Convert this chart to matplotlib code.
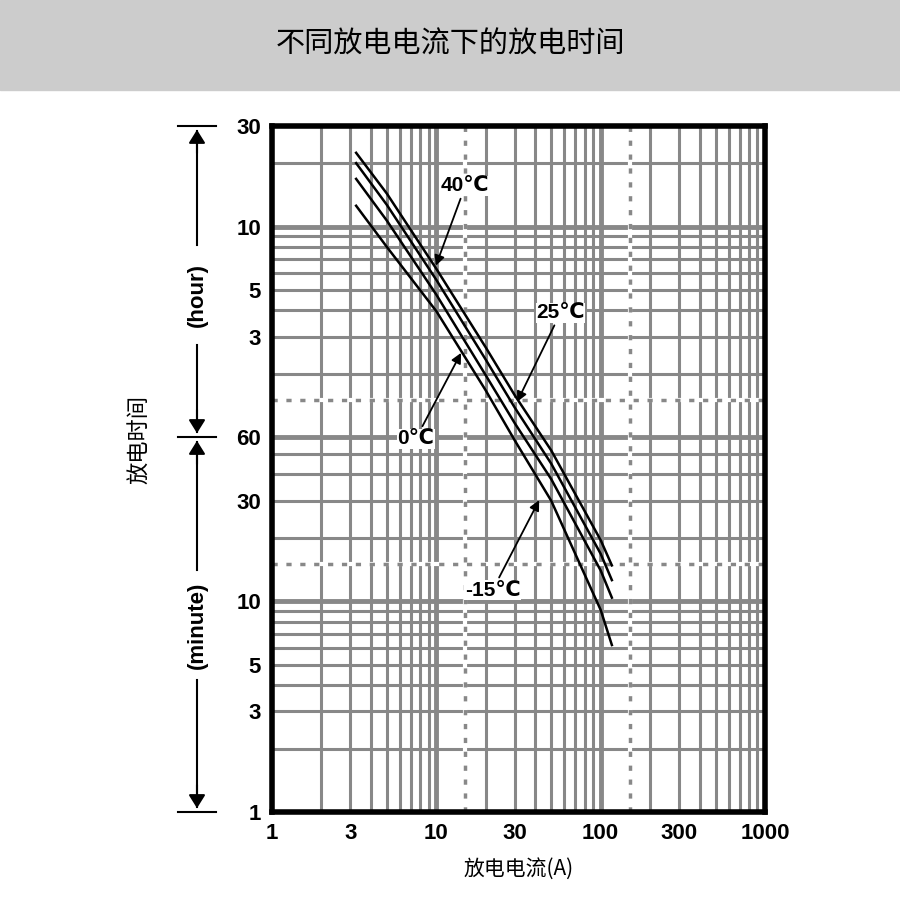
import matplotlib
matplotlib.use("Agg")
import matplotlib.pyplot as plt
import numpy as np

plt.rcParams['font.family'] = ['Noto Sans CJK SC', 'DejaVu Sans']

title = "不同放电电流下的放电时间"
xlabel = "放电电流(A)"
ylabel = "放电时间"
curve_x = [3.25, 5, 10, 20, 30, 50, 100, 117]
curves = {
    "40℃": [1343, 860, 378, 160, 95, 52, 19.5, 14.8],
    "25℃": [1200, 760, 335, 140, 83, 45, 16.8, 12.6],
    "0℃":  [1010, 640, 285, 118, 70, 38, 14.0, 10.4],
    "-15℃": [753, 480, 238, 100, 58, 30, 9.1, 6.2],
}
xticks = [1, 3, 10, 30, 100, 300, 1000]
yticks_min = [1, 3, 5, 10, 30, 60, 180, 300, 600, 1800]
yticklabels = ["1", "3", "5", "10", "30", "60", "3", "5", "10", "30"]

W, H = 900, 916
fig = plt.figure(figsize=(W/100, H/100), dpi=100)
fig.patches.append(plt.Rectangle((0, 1-90/H), 1, 90/H, transform=fig.transFigure, color='#cccccc', zorder=0))
fig.text(0.5, 1-45/H, title, ha='center', va='center', fontsize=21)

ax = fig.add_axes([272/W, 1-812/H, (765-272)/W, (812-126)/H])
ax.set_xscale('log'); ax.set_yscale('log')
ax.set_xlim(1, 1000); ax.set_ylim(1, 1800)

vx = list(range(1, 10)) + list(range(10, 100, 10)) + list(range(100, 1001, 100))
for v in vx:
    ax.axvline(v, color='#888888', lw=3.5 if v in (10, 100) else 2.2, zorder=1)
hy = list(range(1, 10)) + list(range(10, 60, 10)) + [60*h for h in range(1, 10)] + [600, 1200, 1800]
for v in hy:
    ax.axhline(v, color='#888888', lw=3.5 if v in (10, 60, 600) else 2.2, zorder=1)
for v in (15, 150):
    ax.axvline(v, color='white', lw=3, zorder=1.5)
    ax.axvline(v, color='#888888', lw=2.5, ls=(0, (1.5, 2.5)), zorder=2)
for v in (15, 90):
    ax.axhline(v, color='white', lw=3, zorder=1.5)
    ax.axhline(v, color='#888888', lw=2.5, ls=(0, (1.5, 2.5)), zorder=2)

for k, ys in curves.items():
    ax.plot(curve_x, ys, color='black', lw=1.8, zorder=5)

ann = {"40℃": ((15, 935), (9.8, 380)),
       "25℃": ((57, 234), (30.5, 86)),
       "0℃": ((7.5, 59), (14.4, 155)),
       "-15℃": ((22, 11.3), (43, 31))}
lab_font = ['Liberation Sans', 'DejaVu Sans']
for k, (txy, axy) in ann.items():
    ax.annotate(k, xy=axy, xytext=txy, fontsize=15, fontweight='bold', ha='center', va='center',
                family=lab_font,
                arrowprops=dict(arrowstyle='-|>', color='black', lw=1.3), zorder=6,
                bbox=dict(fc='white', ec='none', pad=0.5))

ax.set_xticks(xticks); ax.set_xticklabels([str(t) for t in xticks], fontsize=16, fontweight='bold', family=lab_font)
ax.set_yticks(yticks_min); ax.set_yticklabels(yticklabels, fontsize=16, fontweight='bold', family=lab_font)
ax.minorticks_off()
ax.tick_params(length=0, pad=8)
for s in ax.spines.values():
    s.set_linewidth(4)
ax.set_xlabel(xlabel, fontsize=15, labelpad=10)

def fy(p): return 1 - p/H
lx = 197/W
for y in (126, 437, 812):
    fig.add_artist(plt.Line2D([178/W, 216/W], [fy(y), fy(y)], color='black', lw=1.5))
for (a, b, t0, t1, txt, tc) in [(126, 437, 245, 345, "(hour)", 295), (437, 812, 570, 680, "(minute)", 625)]:
    fig.add_artist(plt.Line2D([lx, lx], [fy(a+5), fy(t0)], color='black', lw=1.5))
    fig.add_artist(plt.Line2D([lx, lx], [fy(t1), fy(b-5)], color='black', lw=1.5))
    fig.text(lx, fy(tc), txt, rotation=90, ha='center', va='center', fontsize=16, fontweight='bold', family=lab_font)
    fig.add_artist(matplotlib.patches.FancyArrowPatch((lx, fy(a+30)), (lx, fy(a+1)), transform=fig.transFigure,
                   arrowstyle='-|>,head_length=8,head_width=5', color='black', lw=1.5))
    fig.add_artist(matplotlib.patches.FancyArrowPatch((lx, fy(b-30)), (lx, fy(b-1)), transform=fig.transFigure,
                   arrowstyle='-|>,head_length=8,head_width=5', color='black', lw=1.5))
fig.text(140/W, fy(440), ylabel, rotation=90, ha='center', va='center', fontsize=16)

fig.savefig("out.png", dpi=100)
